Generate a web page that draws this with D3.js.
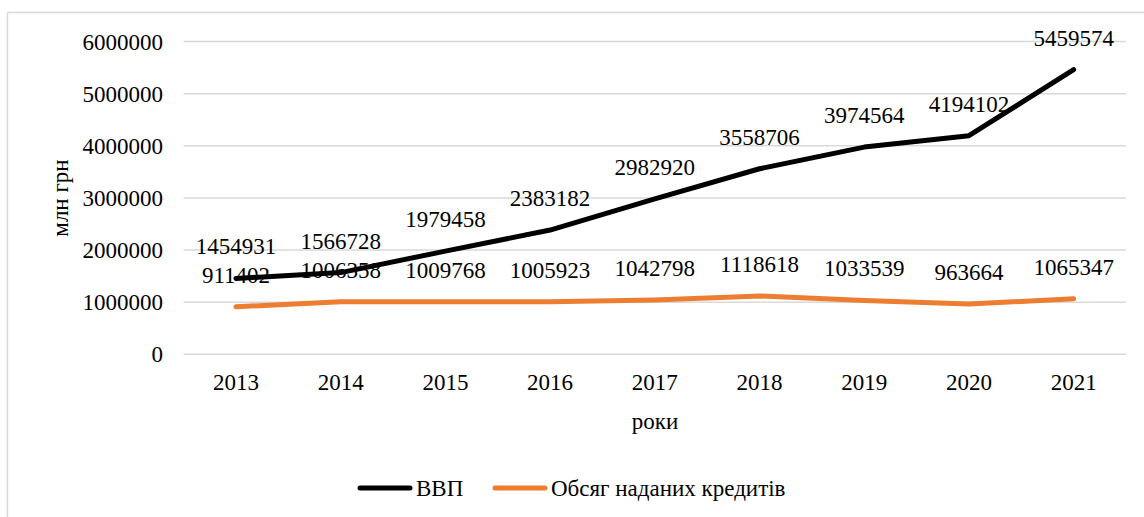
<!DOCTYPE html>
<html><head><meta charset="utf-8">
<script src="https://cdn.jsdelivr.net/npm/d3@7"></script>
<style>body{margin:0;background:#fff}svg{display:block}</style>
</head><body><svg id="c" width="1144" height="517"></svg>
<script>
const years = ["2013","2014","2015","2016","2017","2018","2019","2020","2021"];
const gdp = [1454931,1566728,1979458,2383182,2982920,3558706,3974564,4194102,5459574];
const credits = [911402,1006358,1009768,1005923,1042798,1118618,1033539,963664,1065347];
const yTicks = [0,1000000,2000000,3000000,4000000,5000000,6000000];
const seriesNames = ["ВВП","Обсяг наданих кредитів"];
const colors = ["#000000","#ED7D31"];

const FONT = "'Liberation Serif'";
const svg = d3.select("#c");
const fs = 23;
svg.append("line").attr("x1",7.5).attr("x2",1144).attr("y1",12.5).attr("y2",12.5).attr("stroke","#d9d9d9").attr("stroke-width",1.5);
svg.append("line").attr("x1",7.5).attr("x2",7.5).attr("y1",12.5).attr("y2",517).attr("stroke","#d9d9d9").attr("stroke-width",1.5);

const x = d3.scaleBand().domain(years).range([183.6,1126]);
const y = d3.scaleLinear().domain([0,6000000]).range([354.3,41.5]);

svg.append("g").selectAll("line").data(yTicks).join("line")
  .attr("x1",183.6).attr("x2",1126).attr("y1",d=>y(d)).attr("y2",d=>y(d))
  .attr("stroke","#d9d9d9").attr("stroke-width",1.5);

function txt(sel){ return sel.style("font-family",FONT).attr("font-size",fs).attr("fill","#000"); }

const yAxis = d3.axisLeft(y).tickValues(yTicks).tickSize(0).tickPadding(0).tickFormat(d=>String(d));
const gy = svg.append("g").attr("transform","translate(163,0)").call(yAxis);
gy.select(".domain").remove();
txt(gy.selectAll("text")).attr("dy","0.33em");

const xAxis = d3.axisBottom(x).tickSize(0).tickPadding(0);
const gx = svg.append("g").attr("transform","translate(0,374)").call(xAxis);
gx.select(".domain").remove();
txt(gx.selectAll("text")).attr("dy","0.71em");

txt(svg.append("text").attr("transform","translate(68,198) rotate(-90)").attr("text-anchor","middle")).text("млн грн");
txt(svg.append("text").attr("x",655).attr("y",429).attr("text-anchor","middle")).text("роки");

const cx = d => x(d)+x.bandwidth()/2;
const line = d3.line().x((d,i)=>cx(years[i])).y(d=>y(d));
[gdp,credits].forEach((s,k)=>{
  svg.append("path").datum(s).attr("d",line).attr("fill","none").attr("stroke",colors[k])
    .attr("stroke-width",5).attr("stroke-linecap","round").attr("stroke-linejoin","round");
});
[gdp,credits].forEach((s,k)=>{
  txt(svg.append("g").selectAll("text").data(s).join("text")
    .attr("x",(d,i)=>cx(years[i])).attr("y",d=>y(d)-32).attr("dy","0.35em")
    .attr("text-anchor","middle")).text(d=>String(d));
});

const leg = [{x1:360,x2:410,tx:416},{x1:495,x2:545,tx:551}];
leg.forEach((l,k)=>{
  svg.append("line").attr("x1",l.x1).attr("x2",l.x2).attr("y1",488).attr("y2",488)
    .attr("stroke",colors[k]).attr("stroke-width",5).attr("stroke-linecap","round");
  txt(svg.append("text").attr("x",l.tx).attr("y",488).attr("dy","0.35em")).text(seriesNames[k]);
});
</script></body></html>
